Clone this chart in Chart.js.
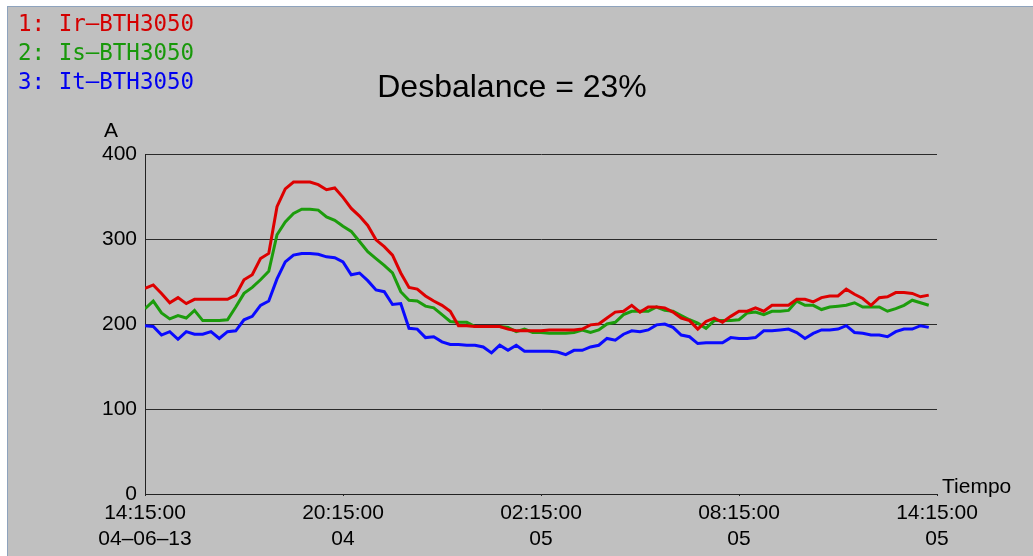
<!DOCTYPE html>
<html>
<head>
<meta charset="utf-8">
<script src="https://cdn.jsdelivr.net/npm/chart.js@4"></script>
<style>
  body { margin: 0; background: #ffffff; }
  #frame { position: absolute; left: 7px; top: 6px; width: 1026px; height: 550px; box-sizing: border-box;
           background: #c0c0c0; border-left: 1px solid #8ea3bd; border-top: 1px solid #8ea3bd; }
  #myChart { position: absolute; left: 0; top: 0; }
</style>
</head>
<body>
<div id="frame"></div>
<canvas id="myChart" width="1033" height="556"></canvas>
<script>
// one sample every 15 minutes, starting 14:15:00 04-06-13
var stepMinutes = 15;

var seriesNames = ['1: Ir\u2013BTH3050', '2: Is\u2013BTH3050', '3: It\u2013BTH3050'];

var irValues = [242, 246, 236, 225, 231, 224, 229, 229, 229, 229, 229, 234, 252, 258, 277, 283,
                338, 359, 367, 367, 367, 364, 358, 360, 349, 336, 327, 316, 299, 291, 281, 260,
                243, 241, 233, 227, 222, 215, 198, 198, 197, 197, 197, 197, 194, 192, 192, 192,
                192, 193, 193, 193, 193, 194, 199, 200, 207, 214, 215, 222, 214, 220, 220, 219,
                214, 207, 204, 194, 203, 207, 202, 209, 215, 215, 219, 215, 222, 222, 222, 229,
                229, 226, 231, 233, 233, 241, 235, 230, 222, 231, 232, 237, 237, 236, 232, 234];

var isValues = [218, 227, 213, 206, 210, 207, 216, 204, 204, 204, 205, 220, 236, 243, 252, 262,
                305, 320, 330, 335, 335, 334, 326, 322, 315, 309, 297, 285, 277, 269, 260, 238,
                228, 227, 221, 219, 211, 203, 202, 202, 197, 197, 197, 197, 196, 191, 194, 190,
                190, 189, 189, 189, 190, 193, 190, 193, 200, 202, 211, 215, 215, 215, 220, 216,
                215, 210, 205, 201, 195, 204, 204, 204, 205, 213, 214, 211, 215, 215, 216, 227,
                222, 222, 217, 220, 221, 222, 225, 220, 220, 220, 215, 218, 222, 228, 225, 222];

var itValues = [198, 197, 187, 191, 182, 191, 188, 188, 191, 183, 191, 192, 205, 209, 222, 227,
                253, 273, 281, 283, 283, 282, 279, 278, 273, 258, 260, 251, 240, 238, 223, 224,
                195, 194, 184, 185, 179, 176, 176, 175, 175, 173, 166, 175, 169, 175, 168, 168,
                168, 168, 167, 164, 169, 169, 173, 175, 183, 181, 188, 192, 191, 193, 199, 200,
                196, 187, 185, 177, 178, 178, 178, 184, 183, 183, 184, 192, 192, 193, 194, 190,
                183, 189, 193, 193, 194, 198, 190, 189, 187, 187, 185, 191, 194, 194, 198, 196];

var xTickMinutes = [0, 360, 720, 1080, 1440];
var xTickLabels = [['14:15:00', '04\u201306\u201313'], ['20:15:00', '04'], ['02:15:00', '05'], ['08:15:00', '05'], ['14:15:00', '05']];
var yTicks = [0, 100, 200, 300, 400];

var colors = ['#dd0000', '#1c9c0c', '#0a0aff'];
var textColors = ['#d40000', '#18980a', '#0000f0'];

function toPoints(values) {
  return values.map(function (v, i) { return { x: i * stepMinutes, y: v }; });
}

var data = {
  datasets: [irValues, isValues, itValues].map(function (vals, k) {
    return {
      label: seriesNames[k],
      data: toPoints(vals),
      borderColor: colors[k],
      borderWidth: 3,
      pointRadius: 0,
      tension: 0,
      fill: false
    };
  })
};

// texts drawn on top: legend, title, axis names
var textPlugin = {
  id: 'texts',
  afterDraw: function (chart) {
    var ctx = chart.ctx;
    ctx.save();
    ctx.textBaseline = 'alphabetic';
    ctx.textAlign = 'left';
    ctx.font = '22.5px "DejaVu Sans Mono"';
    seriesNames.forEach(function (name, k) {
      ctx.fillStyle = textColors[k];
      ctx.fillText(name, 18, 31 + k * 29);
    });
    ctx.fillStyle = '#000000';
    ctx.font = '32px "Liberation Sans"';
    ctx.textAlign = 'center';
    ctx.fillText('Desbalance = 23%', 512, 97);
    ctx.font = '21px "Liberation Sans"';
    ctx.textAlign = 'left';
    ctx.fillText('A', 104, 137);
    ctx.fillText('Tiempo', 942, 493);
    ctx.restore();
  }
};

var config = {
  type: 'line',
  data: data,
  options: {
    responsive: false,
    animation: false,
    devicePixelRatio: 1,
    layout: { padding: { left: 0, top: 154, right: 96, bottom: 0 } },
    plugins: {
      legend: { display: false },
      tooltip: { enabled: false }
    },
    scales: {
      x: {
        type: 'linear',
        min: 0,
        max: 1440,
        afterBuildTicks: function (scale) {
          scale.ticks = xTickMinutes.map(function (m) { return { value: m }; });
        },
        afterFit: function (scale) { scale.height = 62; },
        grid: { display: true, drawOnChartArea: false, tickLength: 2, color: '#222222' },
        border: { display: true, color: '#222222', width: 1 },
        ticks: {
          autoSkip: false,
          maxRotation: 0,
          padding: 5,
          color: '#000000',
          font: { family: 'Liberation Sans', size: 21 },
          callback: function (value) {
            var i = xTickMinutes.indexOf(value);
            return i >= 0 ? xTickLabels[i] : '';
          }
        }
      },
      y: {
        min: 0,
        max: 400,
        afterBuildTicks: function (scale) {
          scale.ticks = yTicks.map(function (v) { return { value: v }; });
        },
        afterFit: function (scale) { scale.width = 145; },
        grid: { color: '#2a2a2a', drawTicks: false, lineWidth: 1 },
        border: { display: true, color: '#222222', width: 1 },
        ticks: {
          padding: 8,
          color: '#000000',
          font: { family: 'Liberation Sans', size: 21 }
        }
      }
    }
  },
  plugins: [textPlugin]
};

var myChart = new Chart(document.getElementById('myChart'), config);
</script>
</body>
</html>
